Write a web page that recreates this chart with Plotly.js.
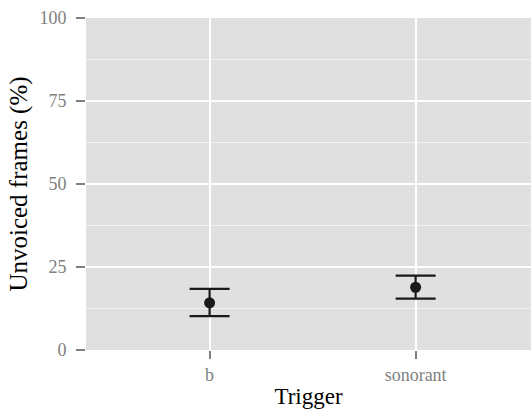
<!DOCTYPE html>
<html><head><meta charset="utf-8">
<script src="https://cdn.plot.ly/plotly-3.0.1.min.js"></script>
<style>body{margin:0;background:#fff}#chart{width:531px;height:416px}</style>
</head><body><div id="chart"></div>
<script>
const categories = ["b", "sonorant"];
const means = [14.2, 18.9];
const upper = [18.4, 22.4];
const lower = [10.2, 15.5];
const yTicks = [0, 25, 50, 75, 100];

const FONT = "Liberation Serif, Times New Roman, serif";
const trace = {
  type: "scatter", mode: "markers",
  x: categories, y: means,
  marker: {color: "#1a1a1a", size: 11},
  error_y: {
    type: "data", symmetric: false,
    array: upper.map((u, i) => u - means[i]),
    arrayminus: means.map((m, i) => m - lower[i]),
    color: "#1a1a1a", thickness: 2.2, width: 20
  },
  hoverinfo: "skip"
};
const layout = {
  width: 531, height: 416,
  margin: {l: 86, r: 0, t: 18, b: 66},
  paper_bgcolor: "#ffffff", plot_bgcolor: "#E0E0E0",
  font: {family: FONT},
  showlegend: false,
  xaxis: {
    type: "category", range: [-0.6, 1.56],
    showgrid: true, gridcolor: "#ffffff", gridwidth: 2,
    zeroline: false, showline: false,
    ticks: "outside", ticklen: 8, tickwidth: 2, tickcolor: "#7F7F7F",
    tickfont: {family: FONT, size: 18, color: "#7F7F7F"},
    title: {text: "Trigger", font: {family: FONT, size: 23, color: "#000"}, standoff: 4}
  },
  yaxis: {
    range: [0, 100], tickvals: yTicks, ticktext: yTicks.map(String),
    showgrid: true, gridcolor: "#ffffff", gridwidth: 2,
    minor: {dtick: 12.5, tick0: 0, showgrid: true, gridcolor: "#F2F2F2", gridwidth: 1, ticks: ""},
    zeroline: false, showline: false,
    ticks: "outside", ticklen: 9, tickwidth: 2, tickcolor: "#7F7F7F",
    ticklabelstandoff: 6,
    tickfont: {family: FONT, size: 18, color: "#7F7F7F"},
    title: {text: "Unvoiced frames (%)", font: {family: FONT, size: 25, color: "#000"}, standoff: 4}
  }
};
Plotly.newPlot("chart", [trace], layout, {displayModeBar: false, staticPlot: true});
</script></body></html>
